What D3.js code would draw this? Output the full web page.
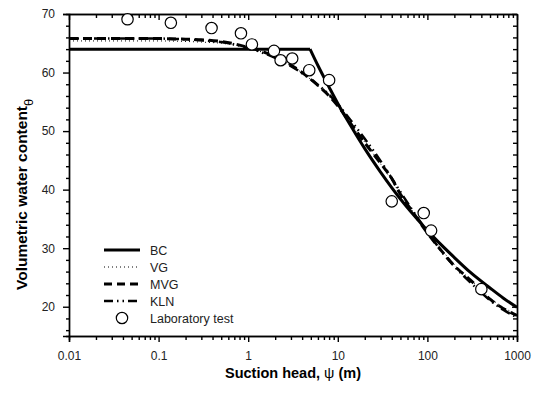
<!DOCTYPE html>
<html>
<head>
<meta charset="utf-8">
<script src="https://cdn.jsdelivr.net/npm/d3@7"></script>
<style>
body { margin: 0; background: #fff; }
text { font-family: Arial, "Liberation Sans", sans-serif; }
.axis path, .axis line { stroke: #000; stroke-width: 1.4; }
.axis text { font-size: 12px; fill: #222; }
</style>
</head>
<body>
<div class="chart"></div>
<script>
// data
var decadeTicks = [0.01, 0.1, 1, 10, 100, 1000];
var decadeLabels = ["0.01", "0.1", "1", "10", "100", "1000"];
var thetaTicks = [20, 30, 40, 50, 60, 70];

var labPsi = [0.045, 0.137, 0.39, 0.83, 1.1, 1.94, 2.3, 3.1, 4.8, 8.0, 40, 91, 110, 400];
var labTheta = [69.1, 68.5, 67.6, 66.7, 64.8, 63.7, 62.1, 62.4, 60.4, 58.7, 38.0, 36.0, 33.0, 23.0];

var bcPsi = [0.01, 4.9, 6, 8, 10, 15, 20, 30, 50, 70, 100, 200, 300, 500, 700, 1000];
var bcTheta = [64, 64, 61.2, 57.5, 54.7, 50.1, 47.0, 43.0, 38.4, 35.7, 33.0, 28.4, 25.9, 23.2, 21.5, 19.9];

var vgPsi = [0.01, 0.1, 0.3, 0.5, 1, 2, 3, 5, 8, 10, 15, 20, 30, 50, 70, 100, 150, 200, 300, 500, 700, 1000];
var vgTheta = [65.4, 65.4, 65.2, 65.0, 64.2, 62.6, 61.2, 58.8, 55.9, 54.2, 50.6, 48.1, 44.4, 39.3, 36.1, 32.8, 29.4, 27.2, 24.7, 21.5, 19.9, 18.7];

var mvgPsi = [0.01, 0.1, 0.2, 0.3, 0.5, 0.7, 1, 1.5, 2, 3, 4, 5, 6, 8, 10, 15, 20, 30, 40, 50, 70, 100, 150, 200, 300, 500, 700, 1000];
var mvgTheta = [65.8, 65.8, 65.7, 65.6, 65.3, 64.9, 64.3, 63.5, 62.7, 61.3, 60.0, 58.9, 57.8, 56.0, 54.3, 50.6, 48.0, 44.5, 41.9, 39.2, 36.0, 32.6, 29.2, 27.0, 24.6, 21.3, 19.7, 18.5];

var klnPsi = [0.01, 0.1, 0.3, 0.5, 1, 2, 3, 5, 8, 10, 15, 20, 30, 50, 70, 100, 150, 200, 300, 500, 700, 1000];
var klnTheta = [65.8, 65.8, 65.5, 65.2, 64.2, 62.5, 61.1, 58.8, 56.2, 54.6, 51.2, 48.7, 44.9, 39.6, 36.2, 32.8, 29.1, 26.9, 24.2, 21.1, 19.5, 18.2];

// sizes
var svgx = 533;
var svgy = 396;
var margin = {top: 14, right: 16, bottom: 60, left: 69};
var w = svgx - margin.left - margin.right;
var h = svgy - margin.top - margin.bottom;

var svg = d3.select(".chart")
    .append("svg")
    .attr("width", svgx)
    .attr("height", svgy);

var g = svg.append("g")
    .attr("transform", "translate(" + margin.left + "," + margin.top + ")");

var xscale = d3.scaleLog().domain([0.01, 1000]).range([0, w]);
var yscale = d3.scaleLinear().domain([15, 70]).range([h, 0]);

// minor tick values
var minorX = [];
decadeTicks.slice(0, -1).forEach(function(d) {
    for (var k = 2; k < 10; k++) minorX.push(d * k);
});
var minorY = d3.range(16, 70, 2).filter(function(d) { return d % 10 != 0; });

// bottom axis
g.append("g").attr("class", "axis")
    .attr("transform", "translate(0," + h + ")")
    .call(d3.axisBottom(xscale).tickValues(minorX).tickFormat("").tickSize(4));
g.append("g").attr("class", "axis")
    .attr("transform", "translate(0," + h + ")")
    .call(d3.axisBottom(xscale).tickValues(decadeTicks)
        .tickFormat(function(d, i) { return decadeLabels[i]; })
        .tickSize(6).tickPadding(9));

// top axis, ticks inward
g.append("g").attr("class", "axis")
    .call(d3.axisTop(xscale).tickValues(minorX).tickFormat("").tickSizeInner(-4).tickSizeOuter(0));
g.append("g").attr("class", "axis")
    .call(d3.axisTop(xscale).tickValues(decadeTicks).tickFormat("").tickSizeInner(-6).tickSizeOuter(0));

// left axis
g.append("g").attr("class", "axis")
    .call(d3.axisLeft(yscale).tickValues(minorY).tickFormat("").tickSize(3));
g.append("g").attr("class", "axis")
    .call(d3.axisLeft(yscale).tickValues(thetaTicks).tickSize(6).tickPadding(8));

// right axis, ticks inward
g.append("g").attr("class", "axis")
    .attr("transform", "translate(" + w + ",0)")
    .call(d3.axisRight(yscale).tickValues(minorY).tickFormat("").tickSizeInner(-4).tickSizeOuter(0));
g.append("g").attr("class", "axis")
    .attr("transform", "translate(" + w + ",0)")
    .call(d3.axisRight(yscale).tickValues(thetaTicks).tickFormat("").tickSizeInner(-5).tickSizeOuter(0));

var plot = g.append("g");

function makeLine(psi, theta, curve) {
    var pts = psi.map(function(p, i) { return [p, theta[i]]; });
    return d3.line()
        .x(function(d) { return xscale(d[0]); })
        .y(function(d) { return yscale(d[1]); })
        .curve(curve)(pts);
}

// BC: flat part then the power law part
plot.append("path")
    .attr("d", makeLine(bcPsi.slice(0, 2), bcTheta.slice(0, 2), d3.curveLinear))
    .attr("fill", "none").attr("stroke", "#000").attr("stroke-width", 3);
plot.append("path")
    .attr("d", makeLine(bcPsi.slice(1), bcTheta.slice(1), d3.curveMonotoneX))
    .attr("fill", "none").attr("stroke", "#000").attr("stroke-width", 3);

var series = [
    {psi: vgPsi, theta: vgTheta, width: 1, dash: "1,3"},
    {psi: mvgPsi, theta: mvgTheta, width: 3, dash: "9,5"},
    {psi: klnPsi, theta: klnTheta, width: 2.5, dash: "10,4,1.5,4,1.5,4"}
];

series.forEach(function(s) {
    plot.append("path")
        .attr("d", makeLine(s.psi, s.theta, d3.curveMonotoneX))
        .attr("fill", "none")
        .attr("stroke", "#000")
        .attr("stroke-width", s.width)
        .attr("stroke-dasharray", s.dash);
});

// laboratory points
plot.selectAll("circle")
    .data(labPsi)
    .enter()
    .append("circle")
    .attr("cx", function(d) { return xscale(d); })
    .attr("cy", function(d, i) { return yscale(labTheta[i]); })
    .attr("r", 5.7)
    .attr("fill", "#fff")
    .attr("stroke", "#000")
    .attr("stroke-width", 1.2);

// legend
var legendItems = [
    {name: "BC", width: 3, dash: null},
    {name: "VG", width: 1, dash: "1,3"},
    {name: "MVG", width: 3, dash: "8,5"},
    {name: "KLN", width: 2.5, dash: "9,4,1.5,4,1.5,4"},
    {name: "Laboratory test", circle: true}
];
var legend = svg.append("g").attr("transform", "translate(104,250)");
legendItems.forEach(function(d, i) {
    var row = legend.append("g").attr("transform", "translate(0," + (i * 17) + ")");
    if (d.circle) {
        row.append("circle").attr("cx", 18).attr("cy", 0).attr("r", 5.7)
            .attr("fill", "#fff").attr("stroke", "#000").attr("stroke-width", 1.2);
    } else {
        row.append("line").attr("x1", 0).attr("x2", 36).attr("y1", 0).attr("y2", 0)
            .attr("stroke", "#000").attr("stroke-width", d.width)
            .attr("stroke-dasharray", d.dash);
    }
    row.append("text").attr("x", 46).attr("y", 4.5)
        .style("font-size", "12.5px").attr("fill", "#222")
        .text(d.name);
});

// axis titles
var xt = svg.append("text")
    .attr("x", margin.left + w / 2)
    .attr("y", 378)
    .attr("text-anchor", "middle")
    .style("font-size", "14.5px")
    .style("font-weight", "bold");
xt.append("tspan").text("Suction head, ");
xt.append("tspan").style("font-weight", "normal").text("\u03c8");
xt.append("tspan").text(" (m)");

var yt = svg.append("text")
    .attr("transform", "translate(27,290) rotate(-90)")
    .attr("text-anchor", "start")
    .style("font-size", "15.5px")
    .style("font-weight", "bold");
yt.append("tspan").text("Volumetric water content");
yt.append("tspan").attr("dy", 6).style("font-weight", "normal").style("font-size", "13px").text("\u03b8");
</script>
</body>
</html>
